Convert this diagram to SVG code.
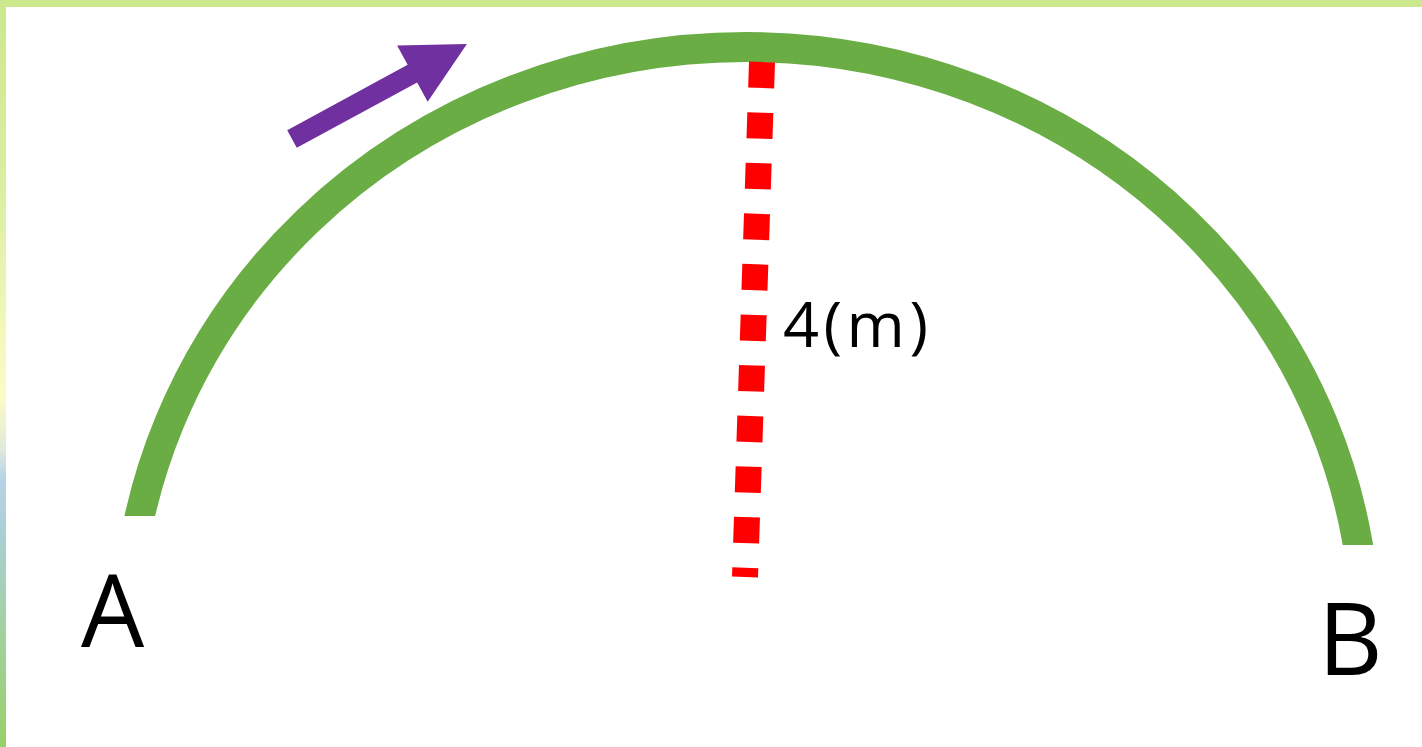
<svg xmlns="http://www.w3.org/2000/svg" width="1422" height="747" viewBox="0 0 1422 747">
  <defs>
    <linearGradient id="leftBand" x1="0" y1="0" x2="0" y2="747" gradientUnits="userSpaceOnUse">
      <stop offset="0" stop-color="#cce88c"/>
      <stop offset="0.25" stop-color="#dbeea3"/>
      <stop offset="0.53" stop-color="#fcfcc4"/>
      <stop offset="0.6" stop-color="#e2eadb"/>
      <stop offset="0.64" stop-color="#b7d3e8"/>
      <stop offset="0.72" stop-color="#a9cfd2"/>
      <stop offset="0.85" stop-color="#a3d19e"/>
      <stop offset="1" stop-color="#98d068"/>
    </linearGradient>
    <clipPath id="arcClip">
      <polygon points="0,0 1422,0 1422,545 746,545 746,516 0,516"/>
    </clipPath>
    <style>
      .lbl { font-family: "Open Sans", "Liberation Sans", sans-serif; fill: #000; }
    </style>
  </defs>
  <rect width="1422" height="747" fill="#ffffff"/>
  <g id="frame">
    <rect x="0" y="0" width="1422" height="7" fill="#cce88c"/>
    <rect x="0" y="0" width="6" height="747" fill="url(#leftBand)"/>
  </g>
  <g id="arc">
    <path d="M 126 641 A 620 594 0 0 1 1366 641" fill="none" stroke="#6aad45" stroke-width="30" clip-path="url(#arcClip)"/>
  </g>
  <g id="connectors">
    <line id="height-line" x1="762" y1="62" x2="745" y2="577" stroke="#ff0000" stroke-width="26" stroke-dasharray="26 24.6"/>
    <polygon id="direction-arrow" points="0,-10 137,-10 137,-32 199,0 137,32 137,10 0,10" fill="#7030a0" transform="translate(292,139) rotate(-28.5)"/>
  </g>
  <g id="label-height">
    <text class="lbl" x="783" y="347" font-size="63" textLength="145" lengthAdjust="spacing">4(m)</text>
  </g>
  <g id="label-A">
    <text class="lbl" x="81" y="647" font-size="100">A</text>
  </g>
  <g id="label-B">
    <text class="lbl" x="1318" y="675" font-size="100">B</text>
  </g>
</svg>
